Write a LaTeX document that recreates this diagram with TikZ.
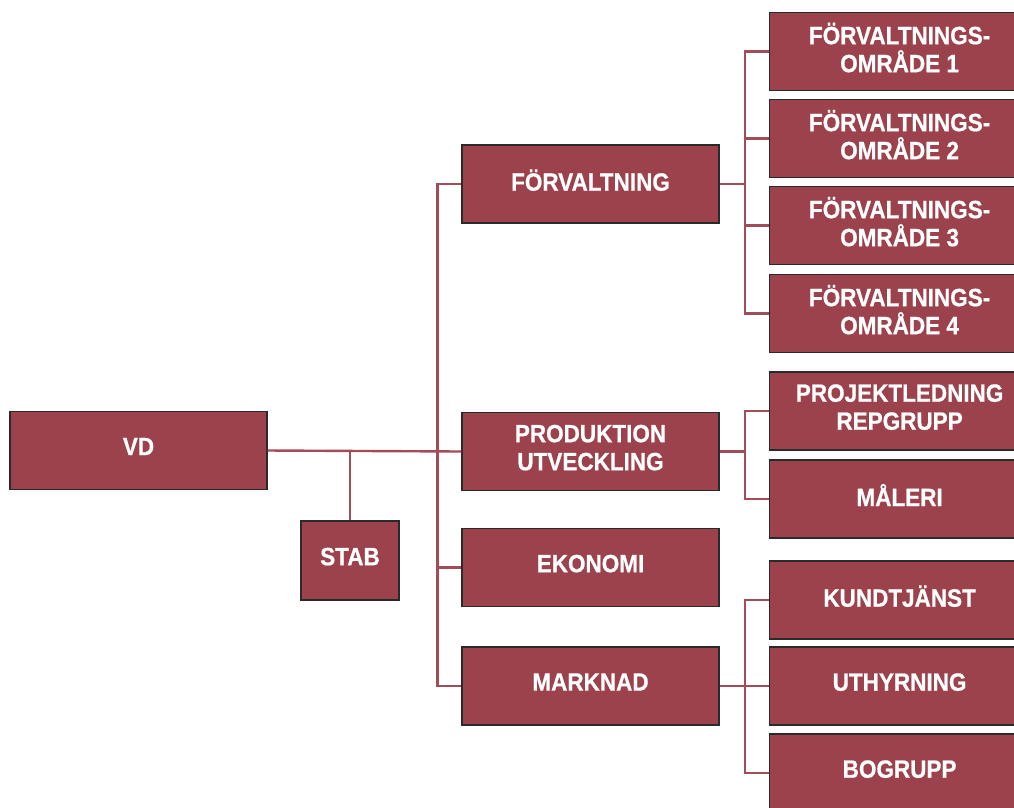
\documentclass[tikz,border=0pt]{standalone}
\usepackage{fontspec}
\setmainfont{Liberation Sans}[FakeStretch=0.9,BoldFeatures={FakeBold=0.7}]
\definecolor{boxred}{HTML}{9C424C}
\definecolor{linered}{HTML}{A34B56}
\definecolor{edge}{HTML}{2A2A2A}
\begin{document}
\begin{tikzpicture}[x=1pt,y=-1pt,
  box/.style={fill=boxred,draw=edge,line width=1.2pt,minimum width=257pt,minimum height=78pt,
    inner sep=2pt,text=white,font=\fontsize{25}{28}\selectfont\bfseries,align=center,text depth=8pt},
  rbox/.style={box,minimum width=260pt,anchor=west},
  conn/.style={draw=linered,line width=2.4pt}]
\useasboundingbox (0,0) rectangle (1014,807);
\node[box] (vd) at (138.5,450.5) {VD};
\node[box,minimum width=98pt,minimum height=79pt] (stab) at (350,560.5) {STAB};
\node[box] (forv) at (590.5,184) {FÖRVALTNING};
\node[box] (prod) at (590.5,451.5) {PRODUKTION\\UTVECKLING};
\node[box] (eko) at (590.5,567.5) {EKONOMI};
\node[box] (mark) at (590.5,686) {MARKNAD};
\node[rbox] (f1) at (769,51.5) {FÖRVALTNINGS-\\OMRÅDE 1};
\node[rbox] (f2) at (769,138.5) {FÖRVALTNINGS-\\OMRÅDE 2};
\node[rbox] (f3) at (769,225.5) {FÖRVALTNINGS-\\OMRÅDE 3};
\node[rbox] (f4) at (769,313.5) {FÖRVALTNINGS-\\OMRÅDE 4};
\node[rbox] (pl) at (769,411) {PROJEKTLEDNING\\REPGRUPP};
\node[rbox] (mal) at (769,499) {MÅLERI};
\node[rbox] (kund) at (769,600) {KUNDTJÄNST};
\node[rbox] (uthy) at (769,686) {UTHYRNING};
\node[rbox] (bog) at (769,773) {BOGRUPP};
% connectors
\path[conn] (vd.east) -- (prod.west);
\path[conn] (stab.north) -- (stab.north |- vd.east);
\path[conn] (forv.west) -| ([xshift=-24pt]mark.west) -- (mark.west);
\path[conn] (eko.west) -- ++(-24,0);
\path[conn] (forv.east) -- ++(26,0);
\path[conn] (f1.west) -| ([xshift=-24pt]f4.west) -- (f4.west);
\path[conn] (f2.west) -- ++(-24,0);
\path[conn] (f3.west) -- ++(-24,0);
\path[conn] (prod.east) -- ++(26,0);
\path[conn] (pl.west) -| ([xshift=-24pt]mal.west) -- (mal.west);
\path[conn] (mark.east) -- ++(26,0);
\path[conn] (kund.west) -| ([xshift=-24pt]bog.west) -- (bog.west);
\path[conn] (uthy.west) -- ++(-24,0);
\end{tikzpicture}
\end{document}
